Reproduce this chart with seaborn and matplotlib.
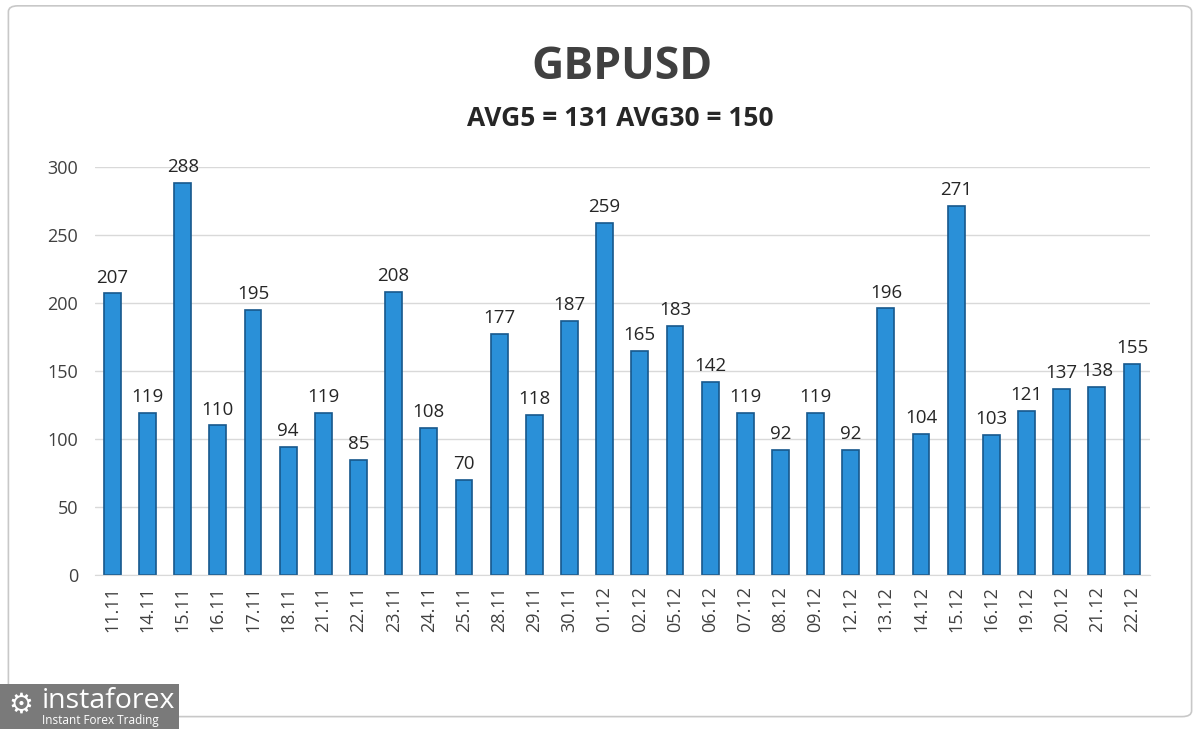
import pandas as pd
import seaborn as sns
import matplotlib.pyplot as plt
from matplotlib.patches import FancyBboxPatch, Rectangle

# Data
dates = ['11.11', '14.11', '15.11', '16.11', '17.11', '18.11', '21.11', '22.11',
         '23.11', '24.11', '25.11', '28.11', '29.11', '30.11', '01.12', '02.12',
         '05.12', '06.12', '07.12', '08.12', '09.12', '12.12', '13.12', '14.12',
         '15.12', '16.12', '19.12', '20.12', '21.12', '22.12']
volatility = [207, 119, 288, 110, 195, 94, 119, 85, 208, 108, 70, 177, 118, 187,
              259, 165, 183, 142, 119, 92, 119, 92, 196, 104, 271, 103, 121, 137,
              138, 155]
yticks = [0, 50, 100, 150, 200, 250, 300]

df = pd.DataFrame({'date': dates, 'pips': volatility})

sns.set_style('white')
plt.rcParams['font.family'] = ['Open Sans', 'DejaVu Sans']

fig = plt.figure(figsize=(12, 7.29), dpi=100)
ax = fig.add_axes([0.079, 0.211, 0.879, 0.56])

sns.barplot(data=df, x='date', y='pips', color='#2a90d8', width=0.48,
            edgecolor='#17588c', linewidth=1.2, saturation=1, ax=ax)

ax.bar_label(ax.containers[0], fontsize=13.5, color='#262626', padding=5)

ax.set_ylim(0, 300)
ax.set_xlim(-0.5, len(dates) - 0.5)
ax.set_yticks(yticks)
ax.yaxis.grid(True, color='#d9d9d9', linewidth=1)
ax.set_axisbelow(True)
for side in ['top', 'right', 'left']:
    ax.spines[side].set_visible(False)
ax.spines['bottom'].set_color('#d9d9d9')
ax.tick_params(axis='x', rotation=90, labelsize=13, colors='#404040', length=0, pad=8)
ax.tick_params(axis='y', labelsize=13, colors='#404040', length=0, pad=12)
ax.set_xlabel('')
ax.set_ylabel('')

fig.text(0.518, 0.907, 'GBPUSD', ha='center', va='center', fontsize=32,
         fontweight='bold', color='#404040')
fig.text(0.517, 0.837, 'AVG5 = 131 AVG30 = 150', ha='center', va='center',
         fontsize=19, fontweight='bold', color='#262626')

# outer frame
fig.patches.append(FancyBboxPatch((0.007, 0.017), 0.986, 0.975,
                                  boxstyle='round,pad=0,rounding_size=0.008',
                                  transform=fig.transFigure, fill=False,
                                  edgecolor='#c8c8c8', linewidth=1.2))

# logo
fig.patches.append(Rectangle((0.0, 0.0), 0.149, 0.062, transform=fig.transFigure,
                             facecolor='#7a7a7a', edgecolor='none', zorder=5))
fig.text(0.035, 0.038, 'instaforex', fontsize=20.5, color='white', va='center',
         ha='left', zorder=6)
fig.text(0.035, 0.011, 'Instant Forex Trading', fontsize=8.5, color='white',
         va='center', ha='left', zorder=6)
fig.text(0.017, 0.033, '⚙', fontsize=20, color='white', va='center', ha='center',
         zorder=6, family='DejaVu Sans')

fig.savefig('out.png', dpi=100)
